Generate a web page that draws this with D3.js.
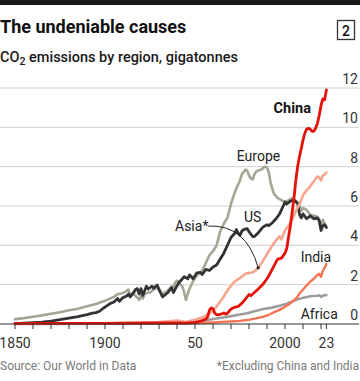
<!DOCTYPE html>
<html><head><meta charset="utf-8">
<script src="https://cdn.jsdelivr.net/npm/d3@7"></script>
<style>
html,body{margin:0;padding:0;background:#fff;}
svg{display:block;font-family:Roboto,"Noto Sans",sans-serif;}
</style></head>
<body><svg id="chart" width="360" height="381"></svg>
<script>
// ---------- data (gigatonnes CO2) ----------
const usYears = [1850,1855,1860,1865,1870,1875,1880,1885,1890,1893,1895,1897,1899,1901,1903,1905,1907,1908,1910,1912,1913,1914,1916,1917,1918,1919,1920,1921,1923,1924,1926,1927,1929,1930,1932,1933,1935,1937,1938,1940,1941,1943,1944,1945,1946,1947,1949,1950,1951,1953,1954,1956,1958,1960,1962,1964,1966,1968,1970,1972,1973,1974,1975,1976,1977,1979,1980,1982,1983,1985,1987,1988,1990,1991,1993,1995,1997,1999,2000,2001,2003,2005,2007,2008,2009,2010,2012,2014,2016,2018,2019,2020,2021,2022,2023];
const usValues = [0.02,0.04,0.07,0.1,0.15,0.22,0.3,0.38,0.48,0.55,0.58,0.65,0.8,0.92,1.05,1.12,1.3,1.15,1.35,1.42,1.52,1.38,1.62,1.75,1.8,1.52,1.8,1.45,1.92,1.78,1.92,1.82,1.98,1.75,1.38,1.45,1.6,1.85,1.6,1.95,2.1,2.3,2.4,2.35,2.3,2.5,2.3,2.45,2.6,2.62,2.52,2.78,2.72,2.9,3.0,3.3,3.6,4.0,4.4,4.6,4.8,4.62,4.5,4.72,4.8,4.85,4.7,4.45,4.45,4.62,4.85,4.95,5.05,5.0,5.15,5.35,5.6,6.0,6.2,6.1,6.25,6.3,6.15,5.6,5.4,5.6,5.35,5.5,5.35,5.4,5.25,4.75,5.0,5.05,4.9];

const europeYears = [1850,1855,1860,1865,1870,1875,1880,1885,1890,1895,1900,1903,1905,1907,1909,1911,1913,1914,1915,1916,1917,1918,1919,1920,1921,1922,1924,1925,1927,1929,1930,1931,1932,1933,1935,1937,1938,1939,1940,1942,1943,1944,1945,1946,1947,1948,1950,1952,1954,1956,1958,1960,1962,1964,1966,1968,1970,1971,1973,1975,1976,1978,1979,1980,1981,1982,1983,1984,1985,1987,1988,1989,1990,1991,1992,1993,1994,1996,1998,2000,2002,2004,2006,2008,2009,2010,2012,2014,2016,2018,2019,2020,2021,2022,2023];
const europeValues = [0.25,0.3,0.37,0.44,0.52,0.6,0.7,0.78,0.9,1.02,1.18,1.3,1.38,1.52,1.55,1.62,1.75,1.5,1.45,1.55,1.42,1.35,1.22,1.42,1.3,1.52,1.6,1.6,1.75,1.85,1.78,1.62,1.52,1.58,1.72,1.9,1.88,2.1,2.2,2.0,1.9,1.6,1.22,1.55,1.8,2.0,2.35,2.55,2.7,3.1,3.5,3.7,4.0,4.7,5.1,5.4,6.1,6.4,6.9,7.3,7.6,7.85,7.8,7.55,7.4,7.35,7.6,7.75,7.8,7.85,7.95,8.0,7.95,7.7,7.2,6.85,6.6,6.4,6.3,6.2,6.3,6.4,6.25,6.05,5.75,5.9,5.8,5.55,5.5,5.45,5.3,5.0,5.3,5.1,4.95];

const asiaYears = [1850,1880,1900,1910,1920,1930,1937,1940,1943,1945,1948,1950,1953,1955,1958,1960,1962,1964,1966,1968,1970,1972,1974,1976,1978,1980,1982,1984,1985,1987,1989,1991,1993,1995,1997,1998,2000,2002,2004,2006,2008,2009,2010,2012,2014,2016,2018,2019,2020,2021,2022,2023];
const asiaValues = [0.01,0.02,0.04,0.06,0.08,0.1,0.15,0.17,0.14,0.1,0.18,0.22,0.3,0.38,0.55,0.68,0.89,1.15,1.4,1.7,1.95,2.15,2.28,2.4,2.55,2.6,2.62,2.75,2.84,3.1,3.4,3.7,4.0,4.25,4.45,4.3,4.75,5.0,5.3,5.75,6.1,6.3,6.55,6.8,7.0,7.25,7.5,7.45,7.3,7.55,7.6,7.7];

const chinaYears = [1850,1900,1930,1940,1945,1950,1952,1954,1956,1957,1958,1959,1960,1961,1962,1963,1965,1966,1967,1968,1969,1970,1972,1974,1976,1978,1980,1981,1983,1985,1988,1990,1991,1993,1995,1996,1998,2000,2001,2002,2003,2004,2005,2006,2007,2008,2009,2010,2011,2012,2013,2014,2015,2016,2017,2018,2019,2020,2021,2022,2023];
const chinaValues = [0.03,0.03,0.05,0.06,0.04,0.08,0.12,0.18,0.25,0.35,0.7,0.82,0.78,0.55,0.48,0.46,0.52,0.56,0.5,0.55,0.65,0.76,0.85,0.9,1.05,1.27,1.5,1.44,1.6,1.77,2.05,2.3,2.45,2.8,3.15,3.3,3.35,3.6,3.85,4.45,5.0,5.7,6.4,7.3,8.0,8.5,8.9,9.35,9.7,9.9,9.95,9.9,9.8,9.8,9.95,10.2,10.6,11.1,11.45,11.4,11.9];

const indiaYears = [1850,1900,1930,1950,1955,1960,1965,1970,1975,1979,1983,1988,1991,1994,1997,2000,2003,2005,2007,2008,2010,2012,2014,2016,2018,2019,2020,2021,2022,2023];
const indiaValues = [0.0,0.01,0.02,0.04,0.06,0.08,0.11,0.13,0.16,0.2,0.27,0.37,0.47,0.6,0.72,0.88,1.05,1.2,1.4,1.55,1.75,1.96,2.15,2.3,2.5,2.56,2.4,2.7,2.85,3.05];

const africaYears = [1900,1920,1940,1950,1955,1960,1965,1970,1975,1979,1983,1988,1992,1997,2000,2004,2008,2012,2015,2018,2019,2020,2021,2022,2023];
const africaValues = [0.02,0.03,0.05,0.1,0.17,0.25,0.32,0.4,0.48,0.55,0.65,0.76,0.82,0.93,1.0,1.15,1.28,1.37,1.42,1.44,1.46,1.38,1.44,1.47,1.47];

const yTicks = [0,2,4,6,8,10,12];
const xTickYears = [1850,1860,1870,1880,1890,1900,1910,1920,1930,1940,1950,1960,1970,1980,1990,2000,2010,2020,2023];
const xLabelYears = [1850,1900,1950,2000,2023];
const xLabelTexts = ["1850","1900","50","2000","23"];

// ---------- drawing ----------
const svg = d3.select("#chart");
const x = d3.scaleLinear().domain([1850, 2023]).range([15, 326.4]);
const y = d3.scaleLinear().domain([0, 12]).range([324, 88]);
const ink = "#333";

svg.append("rect").attr("x",0).attr("y",0).attr("width",360).attr("height",5).attr("fill","#1b1b1b");

svg.append("text").attr("x",0).attr("y",33).attr("font-size",18).attr("font-weight",700)
  .attr("fill","#111").text("The undeniable causes");

const sub = svg.append("text").attr("x",0).attr("y",61.5).attr("font-size",14.5)
  .attr("font-weight",500).attr("fill","#1a1a1a");
sub.append("tspan").text("CO");
sub.append("tspan").attr("font-size",10.5).attr("dy",3).text("2");
sub.append("tspan").attr("dy",-3).text(" emissions by region, gigatonnes");

svg.append("rect").attr("x",337.5).attr("y",20.5).attr("width",17).attr("height",19)
  .attr("fill","none").attr("stroke","#333").attr("stroke-width",1.3);
svg.append("text").attr("x",346).attr("y",35.5).attr("text-anchor","middle")
  .attr("font-size",14).attr("font-weight",500).attr("fill","#111").text("2");

// gridlines
svg.append("g").selectAll("line").data(yTicks.filter(d => d > 0)).join("line")
  .attr("x1",0).attr("x2",359).attr("y1",d => y(d)).attr("y2",d => y(d))
  .attr("stroke","#d0d0d0").attr("stroke-width",1);

// right axis labels
svg.append("g").selectAll("text").data(yTicks).join("text")
  .attr("x",358).attr("y",d => y(d) - 4).attr("text-anchor","end")
  .attr("font-size",14).attr("fill",ink).text(d => d);

// series
const line = d3.line().x(d => x(d[0])).y(d => y(d[1])).curve(d3.curveLinear);
const series = [
  {years: africaYears, values: africaValues, color: "#9d9d9d", w: 2.6},
  {years: indiaYears, values: indiaValues, color: "#f47556", w: 2.4},
  {years: europeYears, values: europeValues, color: "#a3a694", w: 2.6},
  {years: usYears, values: usValues, color: "#333333", w: 2.8},
  {years: asiaYears, values: asiaValues, color: "#f6a68e", w: 2.6},
  {years: chinaYears, values: chinaValues, color: "#e3120b", w: 2.8}
];
series.forEach(s => {
  svg.append("path").datum(d3.zip(s.years, s.values)).attr("d", line)
    .attr("fill","none").attr("stroke", s.color).attr("stroke-width", s.w)
    .attr("stroke-linejoin","round").attr("stroke-linecap","round");
});

// baseline & ticks
svg.append("line").attr("x1",0).attr("x2",359).attr("y1",y(0)).attr("y2",y(0))
  .attr("stroke",ink).attr("stroke-width",1);
svg.append("g").selectAll("line").data(xTickYears).join("line")
  .attr("x1",d => x(d)).attr("x2",d => x(d)).attr("y1",y(0)).attr("y2",y(0)+5)
  .attr("stroke",ink).attr("stroke-width",1);
svg.append("g").selectAll("text").data(xLabelYears).join("text")
  .attr("x",d => x(d)).attr("y",348).attr("text-anchor","middle")
  .attr("font-size",14).attr("fill",ink).text((d,i) => xLabelTexts[i]);

// annotations
const ann = (t, yr, v, opts = {}) => svg.append("text").attr("x", x(yr)).attr("y", y(v))
  .attr("text-anchor", opts.anchor || "start").attr("font-size", opts.size || 14)
  .attr("font-weight", opts.weight || 400).attr("fill", opts.fill || "#222").text(t);
ann("China", 2014.4, 10.73, {anchor: "end", weight: 700, size: 14.5, fill: "#111"});
ann("Europe", 1973.2, 8.29);
ann("US", 1977.2, 5.19);
ann("Asia*", 1938.9, 4.73);
ann("India", 2008.7, 3.15);
ann("Africa", 2008.7, 0.25);

const p = d3.path();
p.moveTo(x(1957.3), y(4.98));
p.quadraticCurveTo(x(1978.3), y(5.08), x(1985.1), y(2.86));
svg.append("path").attr("d", p.toString()).attr("fill","none").attr("stroke","#222").attr("stroke-width",1);
svg.append("circle").attr("cx", x(1985.1)).attr("cy", y(2.86)).attr("r",1.6).attr("fill","#222");

// footer
svg.append("text").attr("x",0).attr("y",370).attr("font-size",12).attr("fill","#7a7a7a")
  .text("Source: Our World in Data");
svg.append("text").attr("x",359).attr("y",370).attr("text-anchor","end").attr("font-size",12)
  .attr("fill","#7a7a7a").text("*Excluding China and India");
</script></body></html>
